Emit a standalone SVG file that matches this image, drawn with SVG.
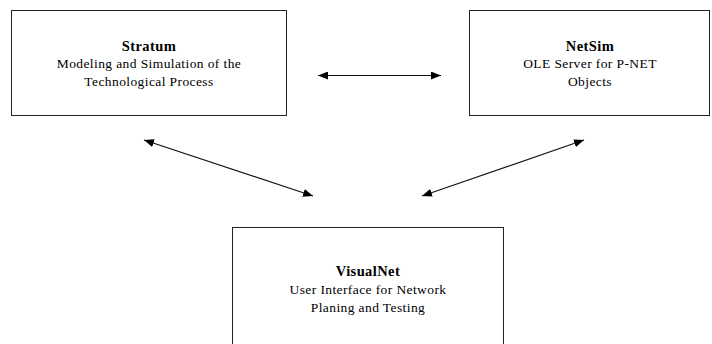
<svg xmlns="http://www.w3.org/2000/svg" width="712" height="344" viewBox="0 0 712 344">
<defs>
<marker id="ah" viewBox="0 0 10 8" refX="10" refY="4" markerWidth="10" markerHeight="8" markerUnits="userSpaceOnUse" orient="auto-start-reverse">
<path d="M0,0 L10,4 L0,8 Z" fill="#000"/>
</marker>
<style>
.box{fill:#fff;stroke:#222;stroke-width:1}
.c{stroke:#111;stroke-width:1.2;fill:none;marker-start:url(#ah);marker-end:url(#ah)}
</style>
</defs>
<rect width="712" height="344" fill="#fff"/>
<g font-family="Liberation Serif, Times New Roman, DejaVu Serif, serif" font-size="13.5" fill="#000" text-anchor="middle" letter-spacing="0.4">
<g id="stratum">
<rect class="box" x="11.5" y="10.5" width="275" height="105"/>
<text x="149" y="51" font-weight="bold" font-size="14.5">Stratum</text>
<text x="149" y="68">Modeling and Simulation of the</text>
<text x="149" y="86">Technological Process</text>
</g>
<g id="netsim">
<rect class="box" x="469.5" y="10.5" width="240" height="105"/>
<text x="590" y="51" font-weight="bold" font-size="14.5">NetSim</text>
<text x="590" y="68">OLE Server for P-NET</text>
<text x="590" y="86">Objects</text>
</g>
<g id="visualnet">
<rect class="box" x="232.5" y="227.5" width="271" height="130"/>
<text x="368" y="276" font-weight="bold" font-size="14.5">VisualNet</text>
<text x="368" y="294">User Interface for Network</text>
<text x="368" y="312">Planing and Testing</text>
</g>
</g>
<g id="connectors">
<line class="c" x1="318" y1="75.5" x2="441" y2="75.5"/>
<line class="c" x1="144" y1="140" x2="313" y2="196"/>
<line class="c" x1="584" y1="140" x2="422" y2="196"/>
</g>
</svg>
